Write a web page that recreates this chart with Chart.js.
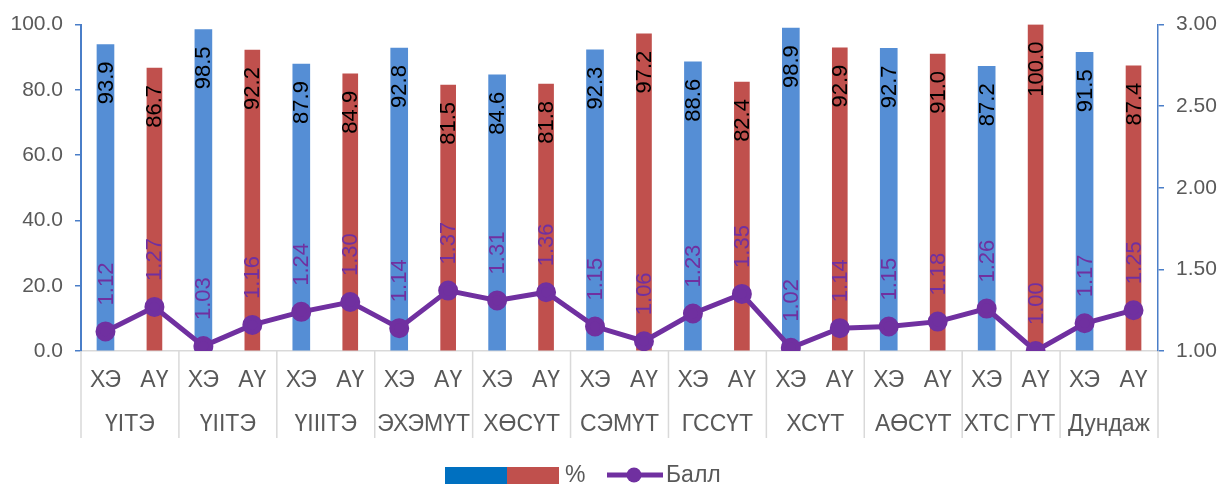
<!DOCTYPE html>
<html>
<head>
<meta charset="utf-8">
<script src="https://cdn.jsdelivr.net/npm/chart.js@4"></script>
<style>
  html, body { margin: 0; padding: 0; background: #fff; }
  #wrap { width: 1221px; height: 484px; position: relative; }
</style>
</head>
<body>
<div id="wrap"><canvas id="chart"></canvas></div>
<script>
// level-1 categories and their groups
const categories = ['ХЭ', 'АҮ', 'ХЭ', 'АҮ', 'ХЭ', 'АҮ', 'ХЭ', 'АҮ', 'ХЭ', 'АҮ', 'ХЭ', 'АҮ',
  'ХЭ', 'АҮ', 'ХЭ', 'АҮ', 'ХЭ', 'АҮ', 'ХЭ', 'АҮ', 'ХЭ', 'АҮ'];
const groupNames = ['ҮІТЭ', 'ҮІІТЭ', 'ҮІІІТЭ', 'ЭХЭМҮТ', 'ХӨСҮТ', 'СЭМҮТ', 'ГССҮТ', 'ХСҮТ', 'АӨСҮТ', 'ХТС', 'ГҮТ', 'Дундаж'];
const groupSpans = [2, 2, 2, 2, 2, 2, 2, 2, 2, 1, 1, 2];

// percent (left axis) and score (right axis)
const percent = [93.9, 86.7, 98.5, 92.2, 87.9, 84.9, 92.8, 81.5, 84.6, 81.8, 92.3, 97.2,
  88.6, 82.4, 98.9, 92.9, 92.7, 91.0, 87.2, 100.0, 91.5, 87.4];
const score = [1.12, 1.27, 1.03, 1.16, 1.24, 1.30, 1.14, 1.37, 1.31, 1.36, 1.15, 1.06,
  1.23, 1.35, 1.02, 1.14, 1.15, 1.18, 1.26, 1.00, 1.17, 1.25];

const leftTicks = [0, 20, 40, 60, 80, 100];
const rightTicks = [1.0, 1.5, 2.0, 2.5, 3.0];

const BLUE = '#558ED5';
const RED = '#C0504D';
const PURPLE = '#7030A0';
const AXIS_BLUE = '#4A7EC8';
const GREY_TEXT = '#595959';
const FONT = '"Liberation Sans", Arial, sans-serif';

const hePct = percent.map((v, i) => categories[i] === 'ХЭ' ? v : null);
const auPct = percent.map((v, i) => categories[i] === 'АҮ' ? v : null);

// rotated value labels on bars and line points
const valueLabels = {
  id: 'valueLabels',
  afterDatasetsDraw(chart) {
    const ctx = chart.ctx;
    ctx.save();
    ctx.font = '22px ' + FONT;
    ctx.textBaseline = 'middle';
    [0, 1].forEach(di => {
      chart.getDatasetMeta(di).data.forEach((bar, i) => {
        const v = chart.data.datasets[di].data[i];
        if (v == null) return;
        ctx.save();
        ctx.translate(bar.x, bar.y + 17);
        ctx.rotate(-Math.PI / 2);
        ctx.textAlign = 'right';
        ctx.fillStyle = '#000';
        ctx.fillText(v.toFixed(1), 0, 1);
        ctx.restore();
      });
    });
    chart.getDatasetMeta(2).data.forEach((pt, i) => {
      ctx.save();
      ctx.translate(pt.x, pt.y - 26);
      ctx.rotate(-Math.PI / 2);
      ctx.textAlign = 'left';
      ctx.fillStyle = PURPLE;
      ctx.fillText(score[i].toFixed(2), 0, 1);
      ctx.restore();
    });
    ctx.restore();
  }
};

// second category row with separators
const groupAxis = {
  id: 'groupAxis',
  afterDraw(chart) {
    const ctx = chart.ctx;
    const area = chart.chartArea;
    const step = (area.right - area.left) / categories.length;
    ctx.save();
    ctx.strokeStyle = '#D9D9D9';
    ctx.lineWidth = 1.5;
    ctx.fillStyle = GREY_TEXT;
    ctx.font = '23px ' + FONT;
    ctx.textAlign = 'center';
    ctx.textBaseline = 'middle';
    let idx = 0;
    const drawSep = px => {
      ctx.beginPath();
      ctx.moveTo(px, area.bottom);
      ctx.lineTo(px, area.bottom + 87);
      ctx.stroke();
    };
    drawSep(area.left);
    groupNames.forEach((name, g) => {
      const start = idx;
      idx += groupSpans[g];
      const x0 = area.left + start * step;
      const x1 = area.left + idx * step;
      drawSep(x1);
      ctx.fillText(name, (x0 + x1) / 2, area.bottom + 74);
    });
    ctx.restore();
  }
};

// legend: combined %-swatch and line marker
const legendDraw = {
  id: 'legendDraw',
  afterDraw(chart) {
    const ctx = chart.ctx;
    const y = 475;
    ctx.save();
    ctx.fillStyle = '#0070C0';
    ctx.fillRect(445, 467, 62, 17);
    ctx.fillStyle = RED;
    ctx.fillRect(507, 467, 52, 17);
    ctx.font = '23px ' + FONT;
    ctx.fillStyle = GREY_TEXT;
    ctx.textBaseline = 'middle';
    ctx.textAlign = 'left';
    ctx.fillText('%', 565, y + 1);
    ctx.strokeStyle = PURPLE;
    ctx.lineWidth = 5;
    ctx.beginPath();
    ctx.moveTo(607, y);
    ctx.lineTo(663, y);
    ctx.stroke();
    ctx.fillStyle = PURPLE;
    ctx.beginPath();
    ctx.arc(634, y, 7.5, 0, Math.PI * 2);
    ctx.fill();
    ctx.fillStyle = GREY_TEXT;
    ctx.fillText('Балл', 666, y + 1);
    ctx.restore();
  }
};

new Chart(document.getElementById('chart'), {
  data: {
    labels: categories,
    datasets: [
      {
        type: 'bar', label: 'ХЭ %', data: hePct, yAxisID: 'y',
        backgroundColor: BLUE, barThickness: 17, grouped: false, order: 2
      },
      {
        type: 'bar', label: 'АҮ %', data: auPct, yAxisID: 'y',
        backgroundColor: RED, barThickness: 15, grouped: false, order: 2
      },
      {
        type: 'line', label: 'Балл', data: score, yAxisID: 'y1',
        borderColor: PURPLE, backgroundColor: PURPLE, borderWidth: 5,
        pointRadius: 7.5, pointHoverRadius: 7.5, tension: 0, order: 1
      }
    ]
  },
  options: {
    responsive: true,
    maintainAspectRatio: false,
    animation: false,
    layout: { padding: { top: 23, bottom: 44, left: 0, right: 0 } },
    plugins: { legend: { display: false }, tooltip: { enabled: false } },
    scales: {
      x: {
        grid: { display: false, drawTicks: false },
        border: { display: true, color: '#D9D9D9', width: 1.5 },
        ticks: { color: GREY_TEXT, font: { family: FONT, size: 23 }, padding: 16, maxRotation: 0, autoSkip: false },
        afterFit(s) { s.height = 89; }
      },
      y: {
        position: 'left', min: 0, max: 100,
        afterBuildTicks(s) { s.ticks = leftTicks.map(v => ({ value: v })); },
        grid: { drawOnChartArea: false, drawTicks: true, tickLength: 6, color: AXIS_BLUE, lineWidth: 1.5 },
        border: { display: true, color: AXIS_BLUE, width: 2 },
        ticks: { color: GREY_TEXT, font: { family: FONT, size: 21 }, padding: 12, callback: v => v.toFixed(1) },
        afterFit(s) { s.width = 81; }
      },
      y1: {
        position: 'right', min: 1, max: 3,
        afterBuildTicks(s) { s.ticks = rightTicks.map(v => ({ value: v })); },
        grid: { drawOnChartArea: false, drawTicks: true, tickLength: 6, color: AXIS_BLUE, lineWidth: 1.5 },
        border: { display: true, color: AXIS_BLUE, width: 1.5 },
        ticks: { color: GREY_TEXT, font: { family: FONT, size: 21 }, padding: 12, callback: v => v.toFixed(2) },
        afterFit(s) { s.width = 63; }
      }
    }
  },
  plugins: [valueLabels, groupAxis, legendDraw]
});
</script>
</body>
</html>
